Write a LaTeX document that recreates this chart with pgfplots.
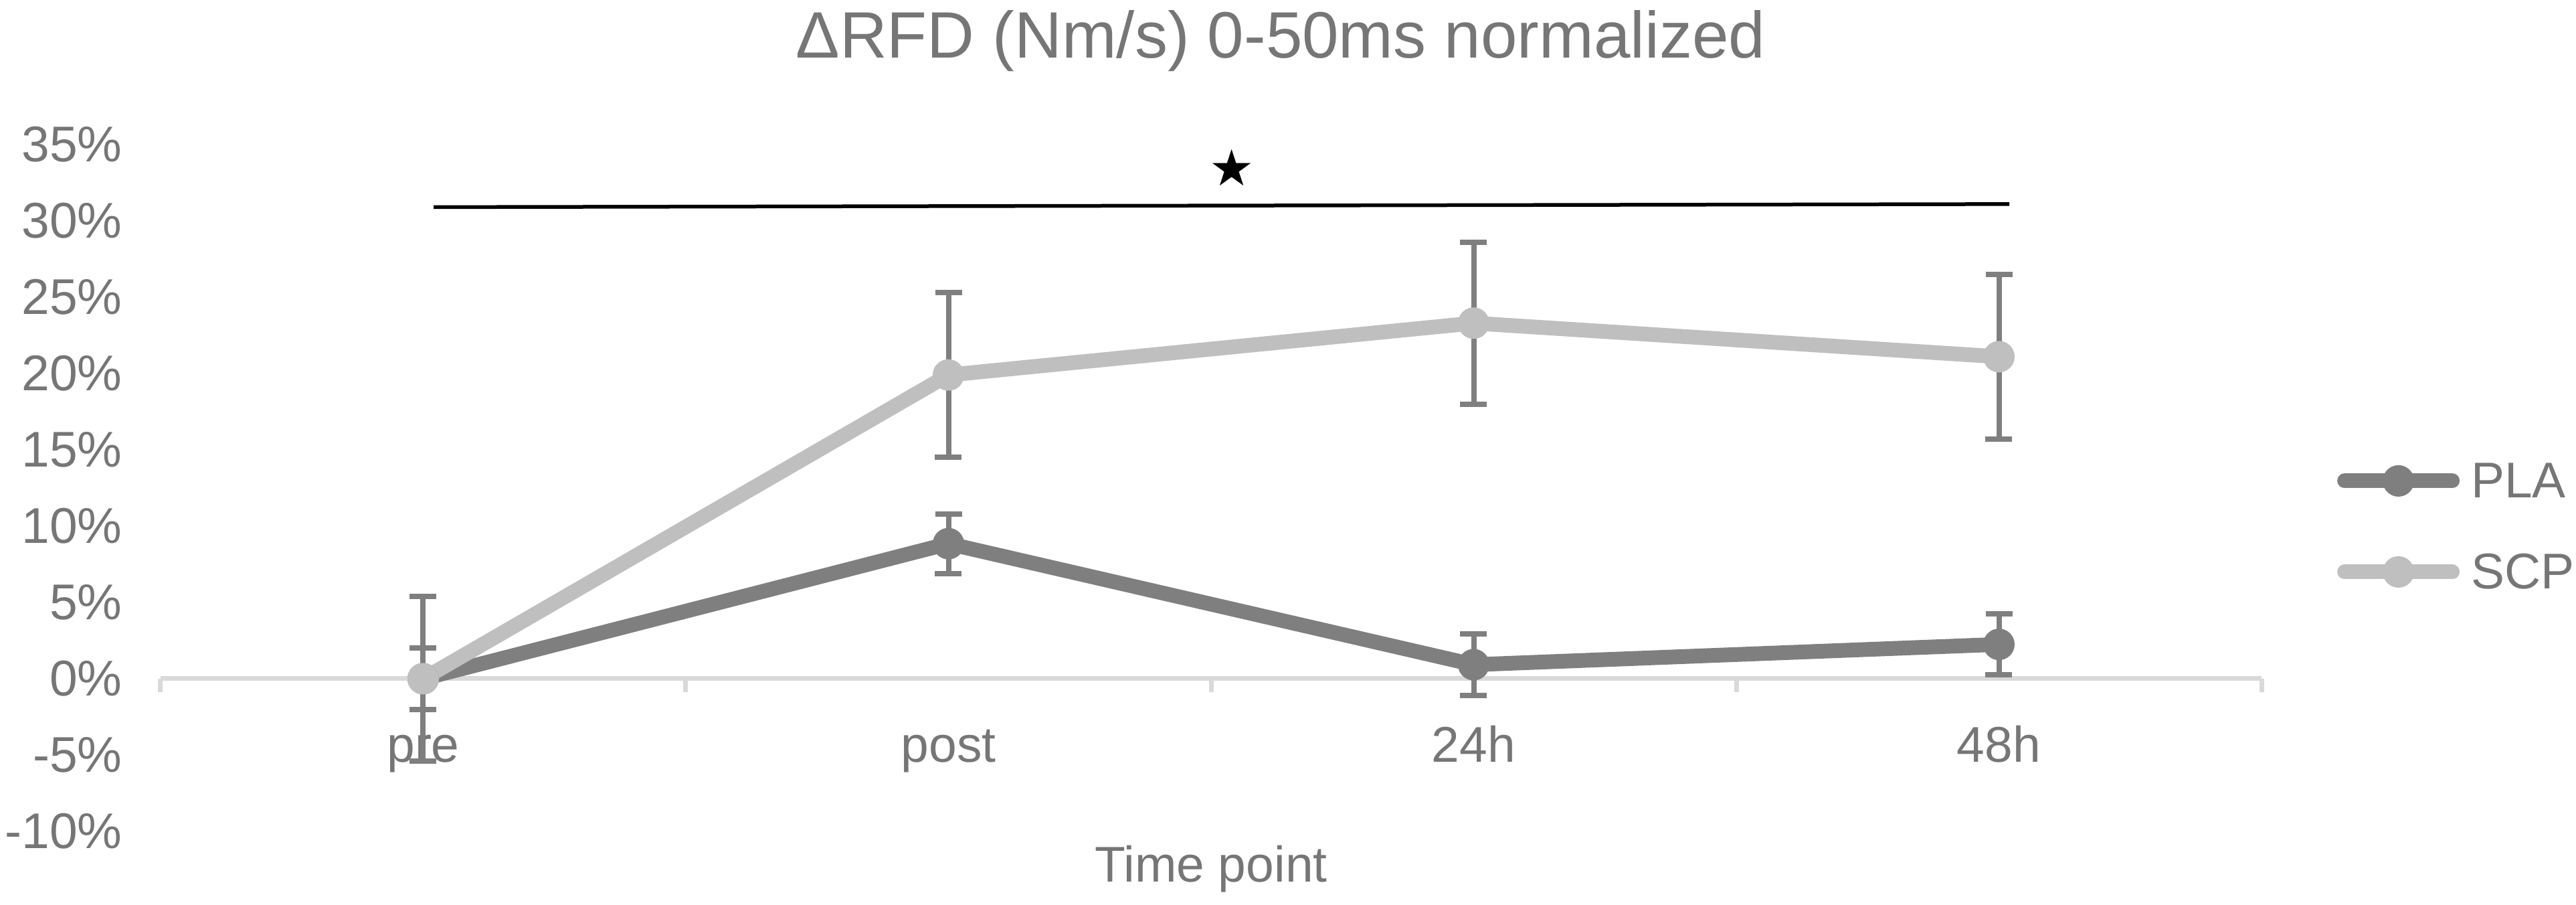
\documentclass[border=0pt]{standalone}
\usepackage{fontspec}
\setmainfont{Liberation Sans}
\newfontfamily\symfont{DejaVu Sans}
\usepackage{pgfplots}
\pgfplotsset{compat=1.18}
\usepackage{pgfplotstable}
\definecolor{txt}{HTML}{767676}
\definecolor{plac}{HTML}{7F7F7F}
\definecolor{scpc}{HTML}{BFBFBF}
\definecolor{errc}{HTML}{7F7F7F}
\definecolor{axc}{HTML}{D9D9D9}

\pgfplotstableread{
x y e
0 0 2.0
1 8.85 1.95
2 0.92 2.0
3 2.25 2.0
}\pla
\pgfplotstableread{
x y e
0 0 5.4
1 19.9 5.4
2 23.3 5.3
3 21.1 5.4
}\scp
\pgfplotstableread{
x y
0.02 30.9
3.02 31.1
}\sigline
\pgfplotstableread{
x y
1.54 33.5
}\sigstar

\begin{document}
\begin{tikzpicture}
\path[use as bounding box] (-24pt,-11pt) rectangle (361pt,124.2pt);
\begin{axis}[
  at={(0,0)}, anchor=south west,
  scale only axis, width=314pt, height=102.6pt,
  xmin=-0.5, xmax=3.5, ymin=-10, ymax=35,
  axis x line=middle, axis y line=left,
  x axis line style={-, draw=axc, line width=0.7pt},
  y axis line style={draw=none},
  xtick={0,1,2,3}, xticklabels={pre,post,24h,48h},
  minor xtick={-0.5,0.5,1.5,2.5,3.5},
  tick align=outside,
  major tick length=0pt, minor tick length=2pt,
  tick style={draw=axc, line width=0.7pt},
  ytick style={draw=none},
  ytick={-10,-5,...,35},
  yticklabels={-10\%,-5\%,0\%,5\%,10\%,15\%,20\%,25\%,30\%,35\%},
  tick label style={font=\fontsize{7.5}{9}\selectfont, text=txt},
  xticklabel style={anchor=base, yshift=-12.5pt},
  yticklabel style={anchor=east, xshift=-2.2pt},
  xlabel={Time point},
  xlabel style={at={(axis description cs:0.5,-0.0741)}, anchor=base, font=\fontsize{7.5}{9}\selectfont, text=txt},
  legend style={at={(axis description cs:1.0354,0.4391)}, anchor=west, draw=none, fill=none, inner sep=0pt,
    row sep=6.5pt, column sep=1.7pt, font=\fontsize{7.5}{9}\selectfont,
    nodes={inner sep=0pt, text height=5.6pt, text depth=1.5pt, text=txt}},
  legend cell align=left,
  legend image code/.code={\draw[mark repeat=2, mark phase=2, #1] plot coordinates {(0pt,0.5pt) (8.05pt,0.5pt) (16.1pt,0.5pt)};},
  clip=false,
]
\addplot[plac, line width=2.2pt, line cap=round, line join=round,
  mark=*, mark size=2.15pt, mark options={solid, fill=plac, draw=plac, line width=0.4pt},
  error bars/.cd, y dir=both, y explicit,
  error bar style={errc, line width=0.8pt},
  error mark options={errc, mark size=2pt, line width=0.8pt, rotate=90}]
  table[x=x, y=y, y error=e] {\pla};
\addlegendentry{PLA}
\addplot[scpc, line width=2.2pt, line cap=round, line join=round,
  mark=*, mark size=2.15pt, mark options={solid, fill=scpc, draw=scpc, line width=0.4pt},
  error bars/.cd, y dir=both, y explicit,
  error bar style={errc, line width=0.8pt},
  error mark options={errc, mark size=2pt, line width=0.8pt, rotate=90}]
  table[x=x, y=y, y error=e] {\scp};
\addlegendentry{SCP}
\addplot[black, line width=0.55pt, mark=none, forget plot] table[x=x, y=y] {\sigline};
\addplot[draw=none, mark=none, forget plot,
  nodes near coords={\symfont ★},
  every node near coord/.append style={anchor=center, inner sep=0pt, font=\fontsize{7.5}{9}\selectfont, text=black}]
  table[x=x, y=y] {\sigstar};
\end{axis}
\node[anchor=base, font=\fontsize{9.8}{12}\selectfont, text=txt, inner sep=0pt] at (167.4pt,115.5pt) {ΔRFD (Nm/s) 0-50ms normalized};
\end{tikzpicture}
\end{document}
